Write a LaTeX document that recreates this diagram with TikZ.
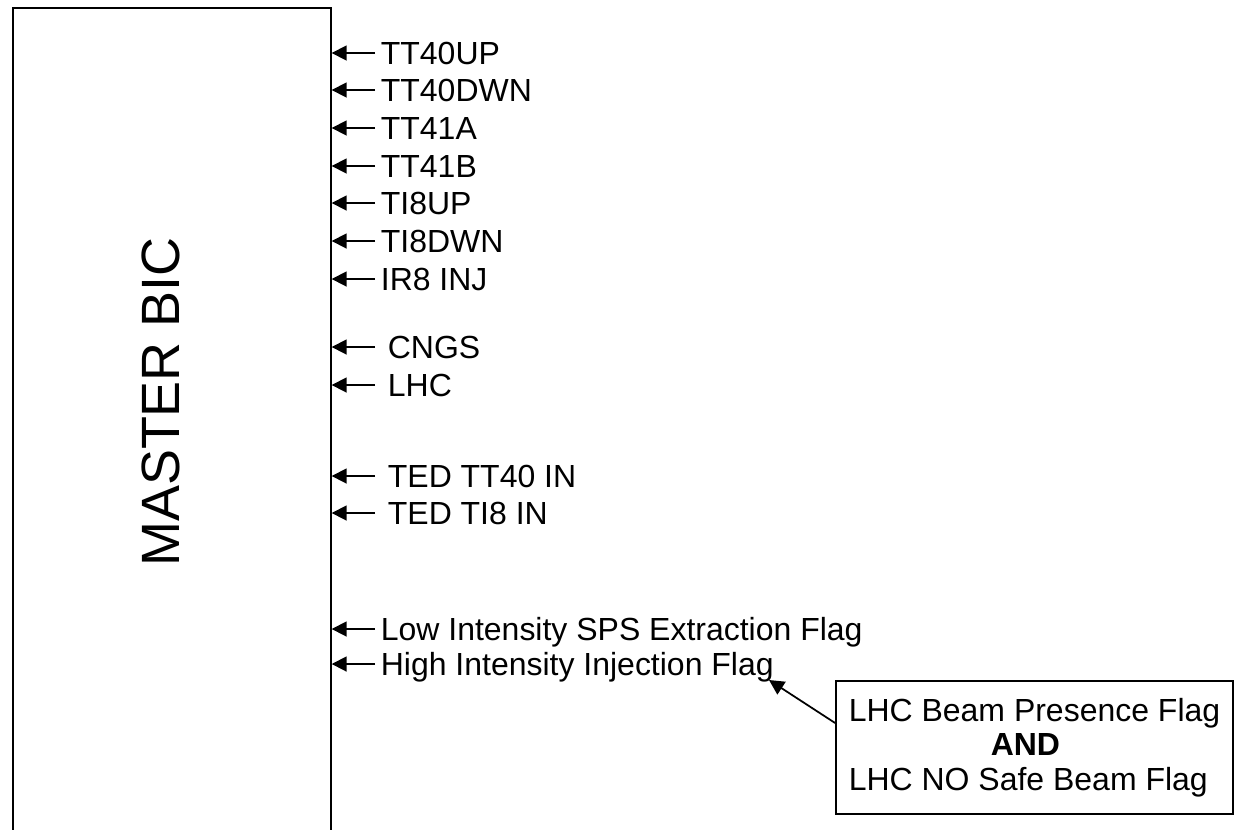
\documentclass[tikz,border=0pt]{standalone}
\usepackage{fontspec}
\setmainfont{Liberation Sans}
\usepackage{tikz}
\usetikzlibrary{arrows.meta, positioning}

\begin{document}
\begin{tikzpicture}[
  x=0.02cm, y=-0.02cm,
  line width=1pt,
  master/.style={draw, anchor=north west, minimum width=6.36cm,
                 minimum height=18cm, inner sep=0pt},
  title/.style={rotate=90, font=\fontsize{30.7}{36}\selectfont},
  signal/.style={anchor=west, font=\fontsize{18.2}{21}\selectfont,
                 text height=13pt, text depth=0pt,
                 inner ysep=0pt, inner xsep=0.1cm},
  spaced/.style={signal, inner xsep=0.24cm},
  flagbox/.style={draw, minimum width=7.94cm, minimum height=2.66cm,
                  align=left, font=\fontsize{18.2}{19.6}\selectfont},
  arrow/.style={-{Triangle[length=0.3cm, width=0.3cm]}},
]
\useasboundingbox (0,0) rectangle (1239,829);
\node[master] (master) at (12,7) {};
\node[title]  (bic)    at (161,402) {MASTER BIC};

\node[signal] (tt40up)  at (375,53)  {TT40UP};
\node[signal] (tt40dwn) at (375,90)  {TT40DWN};
\node[signal] (tt41a)   at (375,128) {TT41A};
\node[signal] (tt41b)   at (375,166) {TT41B};
\node[signal] (ti8up)   at (375,203) {TI8UP};
\node[signal] (ti8dwn)  at (375,241) {TI8DWN};
\node[signal] (ir8inj)  at (375,279) {IR8 INJ};
\node[spaced] (cngs)    at (375,347) {CNGS};
\node[spaced] (lhc)     at (375,385) {LHC};
\node[spaced] (tedtt40) at (375,476) {TED TT40 IN};
\node[spaced] (tedti8)  at (375,513) {TED TI8 IN};
\node[signal] (lowint)  at (375,629) {Low Intensity SPS Extraction Flag};
\node[signal] (highint) at (375,664) {High Intensity Injection Flag};

\node[flagbox] (flag) at (1034.5,747.5)
  {LHC Beam Presence Flag\\ \hspace*{2.84cm}\textbf{AND}\\ LHC NO Safe Beam Flag};
\coordinate (hook) at (769,680);

\draw[arrow] (tt40up.west)  -- (master.east |- tt40up.west);
\draw[arrow] (tt40dwn.west) -- (master.east |- tt40dwn.west);
\draw[arrow] (tt41a.west)   -- (master.east |- tt41a.west);
\draw[arrow] (tt41b.west)   -- (master.east |- tt41b.west);
\draw[arrow] (ti8up.west)   -- (master.east |- ti8up.west);
\draw[arrow] (ti8dwn.west)  -- (master.east |- ti8dwn.west);
\draw[arrow] (ir8inj.west)  -- (master.east |- ir8inj.west);
\draw[arrow] (cngs.west)    -- (master.east |- cngs.west);
\draw[arrow] (lhc.west)     -- (master.east |- lhc.west);
\draw[arrow] (tedtt40.west) -- (master.east |- tedtt40.west);
\draw[arrow] (tedti8.west)  -- (master.east |- tedti8.west);
\draw[arrow] (lowint.west)  -- (master.east |- lowint.west);
\draw[arrow] (highint.west) -- (master.east |- highint.west);
\draw[arrow] (flag.173) -- (hook);
\end{tikzpicture}
\end{document}
